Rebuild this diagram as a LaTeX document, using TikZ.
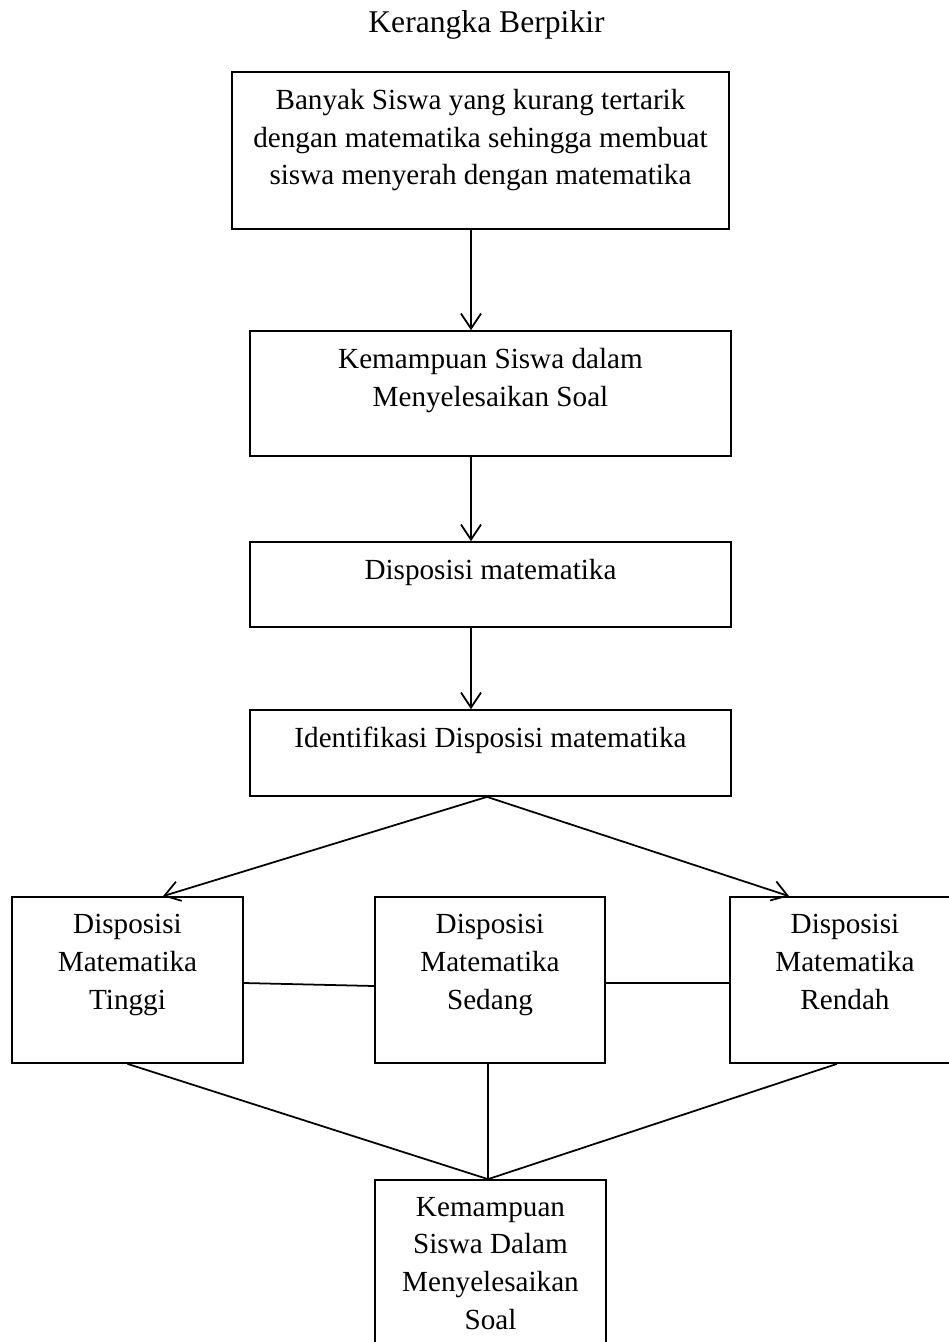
\documentclass[tikz,border=0pt]{standalone}
\usepackage{fontspec}
\setmainfont{Liberation Serif}
\usetikzlibrary{positioning, arrows.meta, calc}

\begin{document}
\begin{tikzpicture}[
    x=0.02cm, y=-0.02cm,
    box/.style={rectangle, draw=black, line width=1pt},
    txt/.style={font=\fontsize{16.6}{21.55}\selectfont, align=center, inner sep=0pt},
    inside/.style={txt, anchor=north, yshift=-0.35cm},
    arrow/.style={-{Straight Barb[length=3mm, width=4mm]}, line width=1pt},
    line/.style={line width=1pt}
]
    \useasboundingbox (0,0) rectangle (948,1342);

    % Title
    \node[txt, font=\fontsize{18}{22}\selectfont, anchor=base] (judul) at (486.5,32) {Kerangka Berpikir};

    % Main column
    \node[box, minimum width=9.94cm, minimum height=3.14cm,
          label={[inside]north:{Banyak Siswa yang kurang tertarik\\dengan matematika sehingga membuat\\siswa menyerah dengan matematika}}]
          (masalah) at (480.5,150.5) {};
    \node[box, minimum width=9.62cm, minimum height=2.5cm,
          label={[inside]north:{Kemampuan Siswa dalam\\Menyelesaikan Soal}}]
          (kemampuan) at (490.5,393.5) {};
    \node[box, minimum width=9.62cm, minimum height=1.7cm,
          label={[inside]north:{Disposisi matematika}}]
          (disposisi) at (490.5,584.5) {};
    \node[box, minimum width=9.62cm, minimum height=1.72cm,
          label={[inside]north:{Identifikasi Disposisi matematika}}]
          (identifikasi) at (490.5,753) {};

    % Levels
    \node[box, minimum width=4.62cm, minimum height=3.32cm,
          label={[inside]north:{Disposisi\\Matematika\\Tinggi}}]
          (tinggi) at (127.5,980) {};
    \node[box, minimum width=4.6cm, minimum height=3.32cm,
          label={[inside]north:{Disposisi\\Matematika\\Sedang}}]
          (sedang) at (490,980) {};
    \node[box, minimum width=4.6cm, minimum height=3.32cm,
          label={[inside]north:{Disposisi\\Matematika\\Rendah}}]
          (rendah) at (845,980) {};

    % Result
    \node[box, minimum width=4.62cm, minimum height=4cm,
          label={[inside]north:{Kemampuan\\Siswa Dalam\\Menyelesaikan\\Soal}}]
          (hasil) at (490.5,1280) {};

    % Arrows down the column
    \draw[arrow] ($(masalah.south)+(-9.5,0)$) -- ($(kemampuan.north)+(-19.5,0)$);
    \draw[arrow] ($(kemampuan.south)+(-19.5,0)$) -- ($(disposisi.north)+(-19.5,0)$);
    \draw[arrow] ($(disposisi.south)+(-19.5,0)$) -- ($(identifikasi.north)+(-19.5,0)$);

    % Branches
    \draw[arrow] ($(identifikasi.south)+(-3.5,0)$) -- ($(tinggi.north)+(35.5,0)$);
    \draw[arrow] ($(identifikasi.south)+(-3.5,0)$) -- ($(rendah.north)+(-56,0)$);

    % Links between levels
    \draw[line] ($(tinggi.east)+(0,3)$) -- ($(sedang.west)+(0,6)$);
    \draw[line] ($(sedang.east)+(0,3)$) -- ($(rendah.west)+(0,3)$);

    % Into the result
    \draw[line] (tinggi.south) -- ($(hasil.north)+(-2.5,0)$);
    \draw[line] ($(sedang.south)+(-2,0)$) -- ($(hasil.north)+(-2.5,0)$);
    \draw[line] ($(rendah.south)+(-8,0)$) -- ($(hasil.north)+(-2.5,0)$);

\end{tikzpicture}
\end{document}
